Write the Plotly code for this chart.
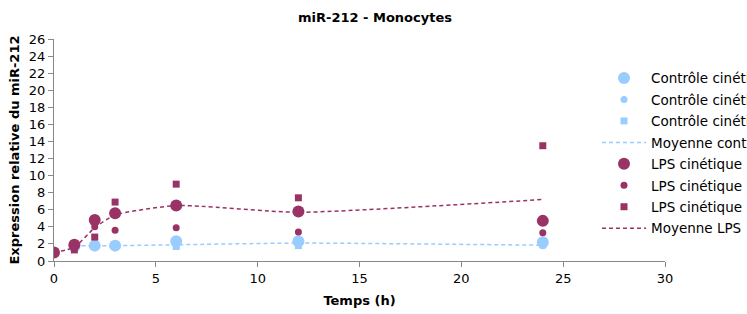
import plotly.graph_objects as go

# Data
hours = [1, 2, 3, 6, 12, 24]
ctrl_1 = [1.7, 1.8, 1.8, 2.3, 2.3, 2.2]
ctrl_2 = [1.8, 1.8, 1.8, 1.8, 2.0, 1.8]
ctrl_3 = [1.8, 1.8, 1.8, 1.7, 1.8, 1.9]
ctrl_mean = [1.8, 1.8, 1.8, 1.9, 2.1, 1.85]

lps_hours = [0, 1, 2, 3, 6, 12, 24]
lps_1 = [1.0, 1.9, 4.8, 5.6, 6.5, 5.8, 4.7]
lps_2 = [1.0, 1.6, 4.0, 3.6, 3.9, 3.4, 3.3]
lps_3 = [1.0, 1.3, 2.8, 6.9, 9.0, 7.4, 13.5]
lps_mean = [1.0, 1.6, 3.9, 5.4, 6.5, 5.7, 7.2]

names = ["Contrôle cinétique 1", "Contrôle cinétique 2", "Contrôle cinétique 3",
         "Moyenne contrôle", "LPS cinétique 1", "LPS cinétique 2",
         "LPS cinétique 3", "Moyenne LPS"]

BLUE = "#99CCFF"
PURPLE = "#993366"

fig = go.Figure()
fig.add_trace(go.Scatter(x=hours, y=ctrl_1, mode="markers", name=names[0], legendgroup="g0",
                         marker=dict(color=BLUE, size=12, symbol="circle")))
fig.add_trace(go.Scatter(x=hours, y=ctrl_2, mode="markers", name=names[1], legendgroup="g1",
                         marker=dict(color=BLUE, size=7, symbol="circle")))
fig.add_trace(go.Scatter(x=hours, y=ctrl_3, mode="markers", name=names[2], legendgroup="g2",
                         marker=dict(color=BLUE, size=7, symbol="square")))
fig.add_trace(go.Scatter(x=hours, y=ctrl_mean, mode="lines", name=names[3], legendgroup="g3",
                         line=dict(color=BLUE, width=1.5, dash="4px,3px", shape="spline",
                                   smoothing=0.5)))
fig.add_trace(go.Scatter(x=lps_hours, y=lps_1, mode="markers", name=names[4], legendgroup="g4",
                         marker=dict(color=PURPLE, size=12, symbol="circle")))
fig.add_trace(go.Scatter(x=lps_hours, y=lps_2, mode="markers", name=names[5], legendgroup="g5",
                         marker=dict(color=PURPLE, size=7, symbol="circle")))
fig.add_trace(go.Scatter(x=lps_hours, y=lps_3, mode="markers", name=names[6], legendgroup="g6",
                         marker=dict(color=PURPLE, size=7, symbol="square")))
fig.add_trace(go.Scatter(x=lps_hours, y=lps_mean, mode="lines", name=names[7], legendgroup="g7",
                         line=dict(color=PURPLE, width=1.5, dash="4px,3px", shape="spline",
                                   smoothing=0.5)))

font = "DejaVu Sans, Verdana, sans-serif"
W, H = 747, 314
fig.update_layout(
    width=W, height=H,
    margin=dict(l=54, r=W - 54 - 611, t=39, b=53, autoexpand=False),
    paper_bgcolor="white", plot_bgcolor="white",
    font=dict(family=font, size=13, color="#000"),
    title=dict(text="<b>miR-212 - Monocytes</b>", x=375 / W, xanchor="center",
               y=1 - 17 / H, yanchor="middle", font=dict(size=13)),
    showlegend=True,
    legend=dict(x=(597 - 54) / 611, xanchor="left", y=0.893, yanchor="top",
                font=dict(size=13.5), bgcolor="rgba(0,0,0,0)",
                itemwidth=44, tracegroupgap=0.9, traceorder="grouped"),
    xaxis=dict(range=[0, 30], dtick=5, tick0=0, showgrid=False, zeroline=False,
               showline=True, linecolor="#888", linewidth=1,
               ticks="outside", ticklen=5, tickcolor="#888",
               title=dict(text="<b>Temps (h)</b>", font=dict(size=13), standoff=11),
               automargin=False),
    yaxis=dict(range=[0, 26], dtick=2, tick0=0, showgrid=False, zeroline=False,
               showline=True, linecolor="#888", linewidth=1,
               ticks="outside", ticklen=5, tickcolor="#888",
               title=dict(text="<b>Expression relative du miR-212</b>", font=dict(size=13), standoff=6),
               automargin=False),
)

post = """
document.documentElement.style.overflow='hidden';
document.body.style.margin='0';
document.body.style.overflow='hidden';
function unclip(){
  document.querySelectorAll('.legend [clip-path], .legend').forEach(function(e){e.removeAttribute('clip-path');});
  document.querySelectorAll('clipPath').forEach(function(c){
    if (c.id && c.id.indexOf('legend') >= 0) {
      c.querySelectorAll('rect').forEach(function(r){r.setAttribute('width', '2000');});
    }
  });
}
unclip(); setTimeout(unclip, 0); setTimeout(unclip, 100);
"""
fig.write_html("out.html", post_script=post, config={"displayModeBar": False})
